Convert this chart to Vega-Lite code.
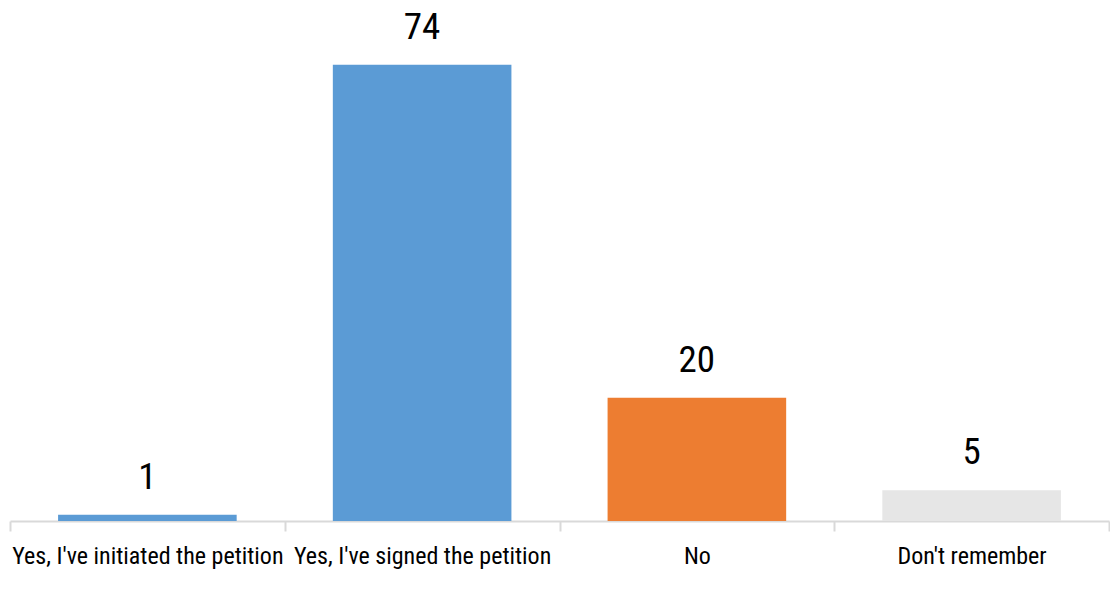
{
  "$schema": "https://vega.github.io/schema/vega-lite/v6.json",
  "width": 1110,
  "height": 608,
  "autosize": {"type": "fit", "contains": "padding"},
  "padding": {"left": 9, "top": 0, "right": 0, "bottom": 40},
  "background": "white",
  "config": {"view": {"stroke": null}, "font": "Roboto Condensed"},
  "data": {
    "values": [
      {"answer": "Yes, I've initiated the petition", "pct": 1, "group": "yes"},
      {"answer": "Yes, I've signed the petition", "pct": 74, "group": "yes"},
      {"answer": "No", "pct": 20, "group": "no"},
      {"answer": "Don't remember", "pct": 5, "group": "dk"}
    ]
  },
  "encoding": {
    "x": {
      "field": "answer",
      "type": "nominal",
      "sort": null,
      "title": null,
      "scale": {"paddingInner": 0, "paddingOuter": 0},
      "axis": {
        "labelAngle": 0,
        "labelFontSize": 24,
        "labelColor": "#000000",
        "labelPadding": 13,
        "labelLimit": 0,
        "domainColor": "#D9D9D9",
        "domainWidth": 2,
        "tickColor": "#D9D9D9",
        "tickWidth": 2,
        "tickSize": 10,
        "tickBand": "extent"
      }
    },
    "y": {
      "field": "pct",
      "type": "quantitative",
      "scale": {"domain": [0, 84.5]},
      "axis": null
    }
  },
  "layer": [
    {
      "mark": {"type": "bar", "width": {"band": 0.65}},
      "encoding": {
        "color": {
          "field": "group",
          "type": "nominal",
          "scale": {"domain": ["yes", "no", "dk"], "range": ["#5B9BD5", "#ED7D31", "#E6E6E6"]},
          "legend": null
        }
      }
    },
    {
      "mark": {"type": "text", "baseline": "bottom", "dy": -18, "fontSize": 37, "color": "#000000"},
      "encoding": {"text": {"field": "pct", "type": "quantitative"}}
    }
  ]
}
